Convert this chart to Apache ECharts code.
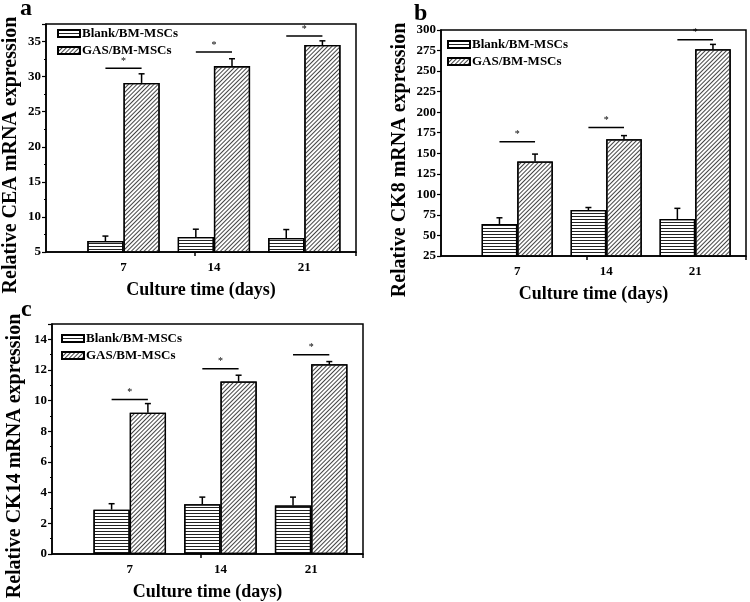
<!DOCTYPE html>
<html>
<head>
<meta charset="utf-8">
<script src="https://cdn.jsdelivr.net/npm/echarts@6/dist/echarts.min.js"></script>
<style>html,body{margin:0;padding:0;background:#fff}#c{width:750px;height:602px}</style>
</head>
<body>
<div id="c"></div>
<script>
// ---- data ----
const days = [7, 14, 21];
const seriesNames = ['Blank/BM-MSCs', 'GAS/BM-MSCs'];
const panelLetters = ['a', 'b', 'c'];
const yTitles = ['Relative CEA mRNA expression', 'Relative CK8 mRNA expression', 'Relative CK14 mRNA expression'];
const xTitle = 'Culture time (days)';

const ceaBlank = [6.57, 7.15, 7.0];
const ceaBlankErr = [0.7, 1.1, 1.2];
const ceaGas = [29.1, 31.5, 34.5];
const ceaGasErr = [1.3, 1.05, 0.6];
const ceaSig = [31.2, 33.5, 35.8];
const ceaAxis = [5, 37.5, 5];

const ck8Blank = [64, 81, 70];
const ck8BlankErr = [7.5, 3, 13];
const ck8Gas = [140, 167, 276.5];
const ck8GasErr = [9, 4.5, 6];
const ck8Sig = [164, 181.5, 288];
const ck8Axis = [25, 300, 25];

const ck14Blank = [2.89, 3.24, 3.17];
const ck14BlankErr = [0.39, 0.47, 0.54];
const ck14Gas = [9.21, 11.25, 12.38];
const ck14GasErr = [0.6, 0.41, 0.17];
const ck14Sig = [10.08, 12.08, 12.99];
const ck14Axis = [0, 15, 2];

const xRange = [1, 25];
const xTickDays = [12.5, 25];

// ---- layout / style ----
const FONT = '"Liberation Serif", "Times New Roman", serif';
const grids = [
  {left: 45, top: 24, width: 311, height: 228},
  {left: 441, top: 30, width: 305, height: 226},
  {left: 52, top: 324, width: 311, height: 230}
];
const yGaps = [25, 31, 27];
const minorOn = [true, false, true];
const legendPos = [{left: 57, top: 27}, {left: 447, top: 38}, {left: 61, top: 332}];
const letterPos = [[20, -3], [414, 2], [21, 298]];

const blankDecal = {symbol: 'rect', symbolSize: 1, color: '#222', dashArrayX: [1, 0], dashArrayY: [1, 2], rotation: 0};
const gasDecal = {symbol: 'rect', symbolSize: 1, color: '#444', dashArrayX: [1, 0], dashArrayY: [1, 2], rotation: -Math.PI / 4};

const panels = [
  {blank: ceaBlank, blankErr: ceaBlankErr, gas: ceaGas, gasErr: ceaGasErr, sig: ceaSig, axis: ceaAxis},
  {blank: ck8Blank, blankErr: ck8BlankErr, gas: ck8Gas, gasErr: ck8GasErr, sig: ck8Sig, axis: ck8Axis},
  {blank: ck14Blank, blankErr: ck14BlankErr, gas: ck14Gas, gasErr: ck14GasErr, sig: ck14Sig, axis: ck14Axis}
];

function errRender(params, api) {
  const x = api.value(0), v = api.value(1), e = api.value(2), side = api.value(3);
  const base = api.coord([x, v]);
  const top = api.coord([x, v + e]);
  const bw = api.size([7, 0])[0] * 0.4;
  const cx = base[0] + side * bw / 2;
  const st = {stroke: '#000', lineWidth: 1.5};
  return {type: 'group', children: [
    {type: 'line', shape: {x1: cx, y1: base[1], x2: cx, y2: top[1]}, style: st},
    {type: 'line', shape: {x1: cx - 3, y1: top[1], x2: cx + 3, y2: top[1]}, style: st}
  ]};
}
function sigRender(params, api) {
  const x = api.value(0), y = api.value(1);
  const p1 = api.coord([x - 1.4, y]);
  const p2 = api.coord([x + 1.4, y]);
  return {type: 'group', children: [
    {type: 'line', shape: {x1: p1[0], y1: p1[1], x2: p2[0], y2: p2[1]}, style: {stroke: '#000', lineWidth: 1.5}},
    {type: 'text', style: {x: (p1[0] + p2[0]) / 2, y: p1[1] - 2, text: '*', fill: '#000', font: '10px ' + FONT, align: 'center', verticalAlign: 'bottom'}}
  ]};
}

const option = {
  animation: false,
  backgroundColor: '#fff',
  grid: grids.map(g => Object.assign({show: true, borderColor: '#000', borderWidth: 1.5, backgroundColor: 'transparent'}, g)),
  xAxis: grids.map((g, i) => ({
    type: 'value', gridIndex: i, min: xRange[0], max: xRange[1],
    name: xTitle, nameLocation: 'middle', nameGap: 29,
    nameTextStyle: {fontFamily: FONT, fontWeight: 'bold', fontSize: 18, color: '#000'},
    axisLine: {show: true, lineStyle: {color: '#000', width: 1.5}},
    axisTick: {show: true, inside: false, length: 4, customValues: xTickDays, lineStyle: {color: '#000', width: 1.5}},
    axisLabel: {customValues: days, fontFamily: FONT, fontWeight: 'bold', fontSize: 13, color: '#000', margin: 9},
    splitLine: {show: false}
  })),
  yAxis: panels.map((p, i) => ({
    type: 'value', gridIndex: i, min: p.axis[0], max: p.axis[1], interval: p.axis[2],
    name: yTitles[i], nameLocation: 'middle', nameGap: yGaps[i], nameRotate: 90,
    nameTextStyle: {fontFamily: FONT, fontWeight: 'bold', fontSize: 20, color: '#000', padding: [0, 34, 0, 0]},
    axisLine: {show: true, lineStyle: {color: '#000', width: 1.5}},
    axisTick: {show: true, inside: false, length: 4, lineStyle: {color: '#000', width: 1.2}},
    minorTick: {show: minorOn[i], splitNumber: 2, length: 2, lineStyle: {color: '#000', width: 1}},
    axisLabel: {fontFamily: FONT, fontWeight: 'bold', fontSize: 13, color: '#000', margin: 5, showMaxLabel: i === 1},
    splitLine: {show: false}
  })),
  legend: panels.map((p, i) => ({
    data: seriesNames, orient: 'vertical', left: legendPos[i].left, top: legendPos[i].top,
    icon: 'rect', itemWidth: 22, itemHeight: 7, itemGap: 4, padding: 0,
    textStyle: {fontFamily: FONT, fontWeight: 'bold', fontSize: 13, color: '#000', padding: [0, 0, 0, -3]},
    selectedMode: false
  })),
  graphic: panelLetters.map((t, i) => ({
    type: 'text', left: letterPos[i][0], top: letterPos[i][1],
    style: {text: t, font: 'bold 24px ' + FONT, fill: '#000'}
  })),
  series: []
};

panels.forEach((p, i) => {
  option.series.push({
    name: seriesNames[0], type: 'bar', xAxisIndex: i, yAxisIndex: i,
    data: days.map((d, k) => [d, p.blank[k]]), barWidth: '40%', barGap: '0%',
    itemStyle: {color: '#fff', borderColor: '#000', borderWidth: 1.3, decal: blankDecal}
  });
  option.series.push({
    name: seriesNames[1], type: 'bar', xAxisIndex: i, yAxisIndex: i,
    data: days.map((d, k) => [d, p.gas[k]]), barWidth: '40%', barGap: '0%',
    itemStyle: {color: '#fff', borderColor: '#000', borderWidth: 1.3, decal: gasDecal}
  });
  option.series.push({
    type: 'custom', xAxisIndex: i, yAxisIndex: i, renderItem: errRender, clip: false, z: 5,
    encode: {x: 0, y: 1},
    data: days.map((d, k) => [d, p.blank[k], p.blankErr[k], -1]).concat(days.map((d, k) => [d, p.gas[k], p.gasErr[k], 1]))
  });
  option.series.push({
    type: 'custom', xAxisIndex: i, yAxisIndex: i, renderItem: sigRender, clip: false, z: 5,
    encode: {x: 0, y: 1},
    data: days.map((d, k) => [d, p.sig[k]])
  });
});

const chart = echarts.init(document.getElementById('c'), null, {renderer: 'canvas'});
chart.setOption(option);
</script>
</body>
</html>
